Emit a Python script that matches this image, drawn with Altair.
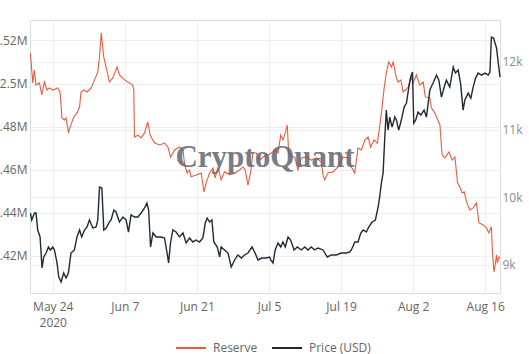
import altair as alt
import pandas as pd

r_dates = ["2020-05-19T16:00","2020-05-20T03:00","2020-05-20T10:00","2020-05-20T18:00","2020-05-21T10:00","2020-05-21T21:00","2020-05-22T09:00","2020-05-22T21:00","2020-05-23T09:00","2020-05-24T00:00","2020-05-24T23:00","2020-05-25T10:00","2020-05-25T19:00","2020-05-26T06:00","2020-05-26T14:00","2020-05-27T01:00","2020-05-27T13:00","2020-05-28T02:00","2020-05-28T17:00","2020-05-29T05:00","2020-05-29T12:00","2020-05-30T01:00","2020-05-30T16:00","2020-05-31T11:00","2020-06-01T03:00","2020-06-01T18:00","2020-06-02T02:00","2020-06-02T10:00","2020-06-02T22:00","2020-06-03T17:00","2020-06-04T00:00","2020-06-04T16:00","2020-06-05T12:00","2020-06-05T23:00","2020-06-06T23:00","2020-06-07T22:00","2020-06-08T13:00","2020-06-08T18:00","2020-06-08T21:00","2020-06-09T13:00","2020-06-10T04:00","2020-06-10T20:00","2020-06-11T11:00","2020-06-11T22:00","2020-06-12T19:00","2020-06-13T18:00","2020-06-14T17:00","2020-06-15T09:00","2020-06-15T21:00","2020-06-16T16:00","2020-06-17T15:00","2020-06-18T07:00","2020-06-18T15:00","2020-06-19T03:00","2020-06-19T14:00","2020-06-19T21:00","2020-06-20T21:00","2020-06-21T20:00","2020-06-22T09:00","2020-06-22T19:00","2020-06-23T11:00","2020-06-24T03:00","2020-06-24T13:00","2020-06-25T02:00","2020-06-25T17:00","2020-06-26T09:00","2020-06-27T09:00","2020-06-28T08:00","2020-06-29T07:00","2020-06-29T23:00","2020-06-30T09:00","2020-06-30T22:00","2020-07-01T11:00","2020-07-01T21:00","2020-07-02T13:00","2020-07-03T05:00","2020-07-03T20:00","2020-07-04T19:00","2020-07-05T11:00","2020-07-06T03:00","2020-07-06T18:00","2020-07-07T07:00","2020-07-07T17:00","2020-07-08T04:00","2020-07-08T13:00","2020-07-08T20:00","2020-07-09T05:00","2020-07-10T00:00","2020-07-10T15:00","2020-07-11T07:00","2020-07-12T06:00","2020-07-13T05:00","2020-07-14T05:00","2020-07-15T04:00","2020-07-15T12:00","2020-07-15T20:00","2020-07-16T11:00","2020-07-17T11:00","2020-07-18T10:00","2020-07-19T09:00","2020-07-20T09:00","2020-07-21T00:00","2020-07-21T16:00","2020-07-22T07:00","2020-07-22T23:00","2020-07-23T15:00","2020-07-24T06:00","2020-07-24T18:00","2020-07-25T10:00","2020-07-26T01:00","2020-07-26T12:00","2020-07-26T23:00","2020-07-27T09:00","2020-07-27T19:00","2020-07-28T06:00","2020-07-28T19:00","2020-07-29T03:00","2020-07-29T18:00","2020-07-30T02:00","2020-07-30T15:00","2020-07-31T01:00","2020-07-31T12:00","2020-08-01T01:00","2020-08-01T13:00","2020-08-02T00:00","2020-08-02T15:00","2020-08-03T07:00","2020-08-03T23:00","2020-08-04T09:00","2020-08-05T06:00","2020-08-05T13:00","2020-08-06T05:00","2020-08-07T05:00","2020-08-07T15:00","2020-08-08T04:00","2020-08-08T23:00","2020-08-09T14:00","2020-08-10T03:00","2020-08-10T15:00","2020-08-11T02:00","2020-08-11T13:00","2020-08-11T22:00","2020-08-12T09:00","2020-08-13T00:00","2020-08-13T16:00","2020-08-14T07:00","2020-08-14T19:00","2020-08-15T15:00","2020-08-16T06:00","2020-08-16T17:00","2020-08-17T05:00","2020-08-17T10:00","2020-08-17T17:00","2020-08-17T21:00","2020-08-18T05:00","2020-08-18T09:00","2020-08-18T16:00","2020-08-18T21:00"]

# Exchange reserve, in millions
r_vals = [2.5141,2.5003,2.5063,2.4993,2.5003,2.4947,2.5007,2.4970,2.4980,2.4970,2.4980,2.4961,2.4840,2.4831,2.4840,2.4775,2.4808,2.4845,2.4864,2.4891,2.4961,2.4970,2.4961,2.4980,2.5017,2.5054,2.5123,2.5235,2.5123,2.5040,2.5007,2.5026,2.5077,2.5040,2.5017,2.5003,2.4993,2.4970,2.4752,2.4761,2.4748,2.4771,2.4822,2.4761,2.4724,2.4715,2.4724,2.4706,2.4659,2.4692,2.4706,2.4692,2.4622,2.4585,2.4599,2.4567,2.4576,2.4585,2.4497,2.4539,2.4585,2.4608,2.4562,2.4613,2.4553,2.4590,2.4576,2.4585,2.4599,2.4613,2.4599,2.4529,2.4590,2.4678,2.4678,2.4645,2.4659,2.4669,2.4678,2.4692,2.4678,2.4761,2.4738,2.4771,2.4808,2.4678,2.4659,2.4659,2.4599,2.4655,2.4659,2.4645,2.4655,2.4636,2.4576,2.4553,2.4585,2.4590,2.4613,2.4659,2.4655,2.4613,2.4585,2.4701,2.4692,2.4738,2.4752,2.4706,2.4738,2.4724,2.4799,2.4887,2.4980,2.5049,2.5100,2.5077,2.5100,2.5026,2.5007,2.5017,2.4961,2.4970,2.4984,2.5031,2.5003,2.5040,2.4993,2.5007,2.4938,2.4933,2.4887,2.4864,2.4808,2.4669,2.4655,2.4683,2.4645,2.4659,2.4539,2.4520,2.4492,2.4497,2.4451,2.4413,2.4423,2.4446,2.4353,2.4344,2.4330,2.4307,2.4335,2.4214,2.4126,2.4149,2.4205,2.4168,2.4195,2.4191]

p_dates = ["2020-05-19T16:00","2020-05-19T22:00","2020-05-20T11:00","2020-05-20T18:00","2020-05-21T02:00","2020-05-21T13:00","2020-05-21T22:00","2020-05-22T06:00","2020-05-22T17:00","2020-05-23T04:00","2020-05-23T13:00","2020-05-24T00:00","2020-05-24T08:00","2020-05-24T20:00","2020-05-25T04:00","2020-05-25T15:00","2020-05-26T03:00","2020-05-26T14:00","2020-05-27T01:00","2020-05-27T13:00","2020-05-28T05:00","2020-05-28T17:00","2020-05-29T05:00","2020-05-29T15:00","2020-05-30T04:00","2020-05-30T16:00","2020-05-31T03:00","2020-05-31T19:00","2020-06-01T10:00","2020-06-01T18:00","2020-06-02T02:00","2020-06-02T13:00","2020-06-02T22:00","2020-06-03T09:00","2020-06-04T00:00","2020-06-04T08:00","2020-06-04T21:00","2020-06-05T07:00","2020-06-05T23:00","2020-06-06T15:00","2020-06-07T06:00","2020-06-07T17:00","2020-06-08T05:00","2020-06-08T21:00","2020-06-09T13:00","2020-06-10T04:00","2020-06-10T20:00","2020-06-11T07:00","2020-06-11T15:00","2020-06-12T00:00","2020-06-12T11:00","2020-06-13T02:00","2020-06-14T01:00","2020-06-14T17:00","2020-06-15T05:00","2020-06-15T12:00","2020-06-15T21:00","2020-06-16T08:00","2020-06-16T23:00","2020-06-17T15:00","2020-06-18T07:00","2020-06-18T22:00","2020-06-19T14:00","2020-06-20T05:00","2020-06-20T21:00","2020-06-21T12:00","2020-06-22T04:00","2020-06-22T15:00","2020-06-23T00:00","2020-06-23T11:00","2020-06-23T22:00","2020-06-24T07:00","2020-06-24T23:00","2020-06-25T10:00","2020-06-25T17:00","2020-06-26T09:00","2020-06-27T01:00","2020-06-27T16:00","2020-06-28T08:00","2020-06-28T23:00","2020-06-29T15:00","2020-06-30T06:00","2020-06-30T22:00","2020-07-01T17:00","2020-07-02T05:00","2020-07-02T21:00","2020-07-03T15:00","2020-07-04T11:00","2020-07-05T03:00","2020-07-05T08:00","2020-07-05T19:00","2020-07-06T05:00","2020-07-06T18:00","2020-07-07T07:00","2020-07-07T17:00","2020-07-08T04:00","2020-07-08T17:00","2020-07-09T05:00","2020-07-09T21:00","2020-07-10T12:00","2020-07-11T07:00","2020-07-11T23:00","2020-07-12T14:00","2020-07-13T05:00","2020-07-13T21:00","2020-07-14T13:00","2020-07-15T12:00","2020-07-16T08:00","2020-07-17T03:00","2020-07-18T02:00","2020-07-19T01:00","2020-07-20T01:00","2020-07-20T17:00","2020-07-21T00:00","2020-07-21T16:00","2020-07-22T07:00","2020-07-22T20:00","2020-07-23T07:00","2020-07-23T22:00","2020-07-24T09:00","2020-07-25T01:00","2020-07-25T16:00","2020-07-26T05:00","2020-07-26T12:00","2020-07-26T20:00","2020-07-27T04:00","2020-07-27T12:00","2020-07-27T19:00","2020-07-28T03:00","2020-07-28T11:00","2020-07-28T22:00","2020-07-29T11:00","2020-07-29T18:00","2020-07-30T05:00","2020-07-30T17:00","2020-07-31T06:00","2020-07-31T17:00","2020-08-01T04:00","2020-08-01T13:00","2020-08-01T21:00","2020-08-02T03:00","2020-08-02T12:00","2020-08-02T23:00","2020-08-03T12:00","2020-08-04T03:00","2020-08-04T14:00","2020-08-05T06:00","2020-08-05T21:00","2020-08-06T13:00","2020-08-07T00:00","2020-08-07T12:00","2020-08-08T01:00","2020-08-08T11:00","2020-08-09T03:00","2020-08-09T19:00","2020-08-10T05:00","2020-08-10T18:00","2020-08-11T05:00","2020-08-11T17:00","2020-08-12T01:00","2020-08-12T17:00","2020-08-13T05:00","2020-08-13T16:00","2020-08-14T03:00","2020-08-14T15:00","2020-08-15T07:00","2020-08-15T23:00","2020-08-16T14:00","2020-08-16T22:00","2020-08-17T05:00","2020-08-17T15:00","2020-08-18T05:00","2020-08-18T13:00","2020-08-18T21:00"]

# BTC price in USD
p_vals = [9768,9665,9768,9768,9517,9414,8956,9118,9177,9266,9222,9266,9222,9030,8823,8749,8882,8808,8882,9177,9222,9414,9517,9414,9517,9561,9665,9547,9561,9665,10152,10137,9517,9547,9635,9665,9812,9783,9635,9709,9665,9487,9739,9709,9709,9768,9842,9916,9812,9266,9473,9414,9414,9399,9177,9030,9325,9517,9487,9414,9473,9325,9399,9340,9369,9340,9399,9620,9694,9635,9665,9340,9266,9118,9266,9222,9177,8970,9074,9148,9103,9148,9177,9266,9192,9074,9103,9103,9118,9074,9030,9222,9325,9266,9340,9266,9414,9369,9222,9266,9222,9266,9222,9266,9222,9251,9222,9118,9148,9148,9177,9177,9192,9222,9340,9340,9473,9517,9487,9561,9635,9665,9857,10004,10211,10359,10891,11289,10994,11186,11038,11186,11142,10994,11142,11334,11393,11629,11777,11851,11097,11142,11260,11216,11289,11186,11585,11688,11806,11732,11481,11629,11732,11629,11924,11836,11880,11688,11289,11437,11540,11466,11629,11762,11836,11806,11836,11806,11851,12368,12353,12205,11984,11777]

series_names = ["Reserve", "Price (USD)"]
series_colors = ["#ef5a3c", "#1f2a37"]
reserve_ticks = [2.42, 2.44, 2.46, 2.48, 2.50, 2.52]
price_ticks = [9000, 10000, 11000, 12000]
watermark = "CryptoQuant"

reserve_df = pd.DataFrame({"date": r_dates, "value": r_vals})
price_df = pd.DataFrame({"date": p_dates, "value": p_vals})

FONT = "Open Sans"
x_ticks = [alt.DateTime(year=2020, month=m, date=d) for m, d in
           [(5, 24), (6, 7), (6, 21), (7, 5), (7, 19), (8, 2), (8, 16)]]

x_enc = alt.X(
    "date:T",
    title=None,
    scale=alt.Scale(domain=[alt.DateTime(year=2020, month=5, date=19, hours=14),
                            alt.DateTime(year=2020, month=8, date=18, hours=21)]),
    axis=alt.Axis(
        values=x_ticks,
        labelExpr="month(datum.value)==4 ? [timeFormat(datum.value, '%b %-d'), '2020'] : timeFormat(datum.value, '%b %-d')",
        grid=True, gridColor="#eeeeee", gridWidth=1,
        ticks=False, domain=False,
        labelPadding=8, labelFontSize=12, labelColor="#666666", labelFont=FONT,
        labelLineHeight=16,
    ),
)

color_scale = alt.Scale(domain=series_names, range=series_colors)
legend = alt.Legend(
    title=None, orient="none", direction="horizontal",
    legendX=145, legendY=312,
    symbolType="stroke", symbolSize=900, symbolStrokeWidth=2,
    labelFont=FONT, labelFontSize=12, labelColor="#666666",
    columnPadding=10, labelOffset=6,
)

reserve = alt.Chart(reserve_df).mark_line(strokeWidth=1.1, interpolate="linear").encode(
    x=x_enc,
    y=alt.Y("value:Q", title=None,
            scale=alt.Scale(domain=[2.4028, 2.5295], nice=False, zero=False),
            axis=alt.Axis(orient="left", values=reserve_ticks,
                          labelExpr="format(datum.value, '.2~f') + 'M'",
                          grid=True, gridColor="#eeeeee", ticks=False, domain=False,
                          labelPadding=3, labelFontSize=12, labelColor="#666666",
                          labelFont=FONT)),
    color=alt.Color("s:N", scale=color_scale, legend=legend, sort=series_names),
).transform_calculate(s="'Reserve'")

price = alt.Chart(price_df).mark_line(strokeWidth=1.4).encode(
    x=x_enc,
    y=alt.Y("value:Q", title=None,
            scale=alt.Scale(domain=[8586, 12620], nice=False, zero=False),
            axis=alt.Axis(orient="right", values=price_ticks, format="~s",
                          grid=True, gridColor="#eeeeee", ticks=False, domain=False,
                          labelPadding=2, labelFontSize=12, labelColor="#8c8c8c",
                          labelFont=FONT)),
    color=alt.Color("s:N", scale=color_scale, legend=legend, sort=series_names),
).transform_calculate(s="'Price (USD)'")

wm = alt.Chart(pd.DataFrame({"t": [watermark]})).mark_text(
    font="Liberation Serif", fontWeight="bold", fontSize=31,
    color="#5f6770", opacity=0.85, align="center", baseline="alphabetic",
).encode(text="t:N", x=alt.value(235), y=alt.value(147))

chart = alt.layer(reserve, price, wm).resolve_scale(y="independent").properties(
    width=470, height=273,
    autosize=alt.AutoSizeParams(type="none"),
    padding={"left": 30, "top": 20, "right": 29, "bottom": 61},
).configure_view(stroke=None).configure(background="white")

chart.save("out.html", embed_options={"renderer": "svg", "actions": False})
